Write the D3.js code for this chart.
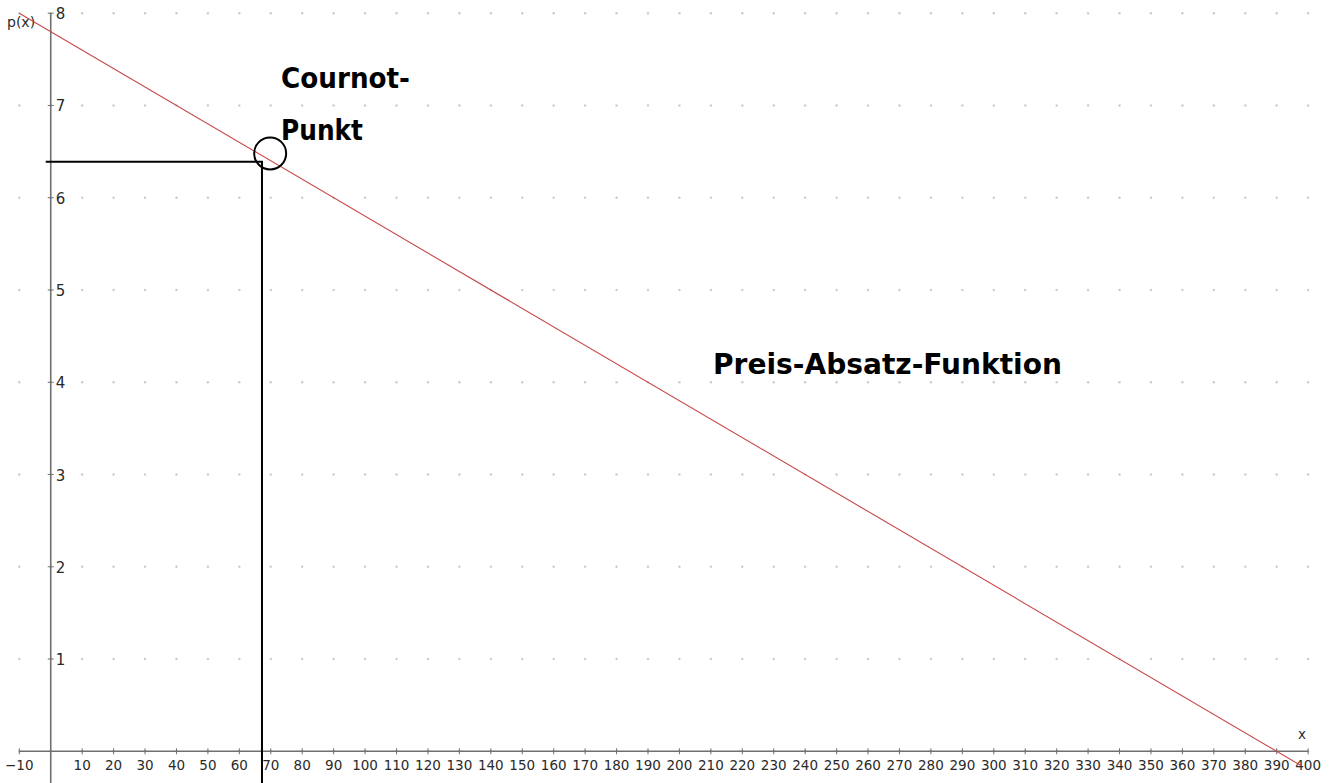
<!DOCTYPE html>
<html><head><meta charset="utf-8">
<script src="https://cdn.jsdelivr.net/npm/d3@7"></script>
<style>html,body{margin:0;padding:0;background:#fff;overflow:hidden}</style>
</head><body>
<svg id="c" width="1336" height="783"></svg>
<script>
// Data
const xTicks = [-10,10,20,30,40,50,60,70,80,90,100,110,120,130,140,150,160,170,180,190,200,210,220,230,240,250,260,270,280,290,300,310,320,330,340,350,360,370,380,390,400];
const yTicks = [1,2,3,4,5,6,7,8];
const demandX = [-10, 398];          // Preis-Absatz-Funktion p(x) = 7.8 - 0.02x
const demandP = [8.0, -0.16];
const cournotX = [67.2];
const cournotP = [6.39];
const circleX = [69.8];
const circleP = [6.48];
const gridX = d3.range(-10, 401, 10);
const gridY = [0,1,2,3,4,5,6,7,8];

const svg = d3.select("#c");
const x = d3.scaleLinear().domain([-10, 390]).range([19.3, 1276.7]);
const y = d3.scaleLinear().domain([0, 8]).range([751.3, 13.2]);

// dot grid
const dots = [];
gridY.forEach(gy => gridX.forEach(gx => dots.push([gx, gy])));
svg.append("g").selectAll("circle").data(dots).join("circle")
  .attr("cx", d => x(d[0])).attr("cy", d => y(d[1])).attr("r", 1.2)
  .attr("fill", "#cccccc");

// axes
const axisColor = "#707070";
svg.append("line").attr("x1", x(-10)).attr("x2", 1308).attr("y1", y(0)).attr("y2", y(0))
  .attr("stroke", axisColor).attr("stroke-width", 1.6);
svg.append("line").attr("x1", x(0)).attr("x2", x(0)).attr("y1", y(8)).attr("y2", 783)
  .attr("stroke", axisColor).attr("stroke-width", 1.6);

// x ticks
const xg = svg.append("g");
xg.selectAll("line").data(xTicks).join("line")
  .attr("x1", d => x(d)).attr("x2", d => x(d)).attr("y1", y(0) - 3).attr("y2", y(0) + 3)
  .attr("stroke", axisColor).attr("stroke-width", 1);
xg.selectAll("text").data(xTicks).join("text")
  .attr("x", d => x(d)).attr("y", 770)
  .attr("text-anchor", "middle")
  .attr("font-family", "DejaVu Sans, sans-serif").attr("font-size", 13.5)
  .attr("fill", "#2a2a2a")
  .text(d => d < 0 ? "\u2212" + Math.abs(d) : d);

// y ticks
const yg = svg.append("g");
yg.selectAll("line").data(yTicks).join("line")
  .attr("x1", x(0) - 3).attr("x2", x(0) + 3).attr("y1", d => y(d)).attr("y2", d => y(d))
  .attr("stroke", axisColor).attr("stroke-width", 1);
yg.selectAll("text").data(yTicks).join("text")
  .attr("x", x(0) + 5).attr("y", d => y(d) + 6)
  .attr("font-family", "DejaVu Sans, sans-serif").attr("font-size", 15)
  .attr("fill", "#2a2a2a")
  .text(d => d);

// axis labels
svg.append("text").attr("x", 1302).attr("y", 739).attr("text-anchor", "middle")
  .attr("font-family", "DejaVu Sans, sans-serif").attr("font-size", 13.5).attr("fill", "#2a2a2a").text("x");
svg.append("text").attr("x", 7).attr("y", 27)
  .attr("font-family", "DejaVu Sans, sans-serif").attr("font-size", 14).attr("fill", "#2a2a2a").text("p(x)");

// demand line
const line = d3.line().x(d => x(d[0])).y(d => y(d[1]));
svg.append("path").datum(demandX.map((v, i) => [v, demandP[i]]))
  .attr("d", line).attr("stroke", "#c84848").attr("stroke-width", 1.1).attr("fill", "none");

// Cournot guide lines
svg.append("path")
  .attr("d", `M45.7,${y(cournotP[0])}H${x(cournotX[0])}V783`)
  .attr("stroke", "#000").attr("stroke-width", 2).attr("fill", "none").attr("stroke-linejoin", "miter");
svg.append("circle").attr("cx", x(circleX[0])).attr("cy", y(circleP[0])).attr("r", 16)
  .attr("fill", "none").attr("stroke", "#000").attr("stroke-width", 2);

// annotations
const ann = (t, px, py, len) => svg.append("text").attr("x", px).attr("y", py)
  .attr("font-family", "DejaVu Sans, sans-serif").attr("font-weight", "bold").attr("font-size", 29)
  .attr("fill", "#000").attr("textLength", len).attr("lengthAdjust", "spacingAndGlyphs").text(t);
ann("Cournot-", 281, 88, 129);
ann("Punkt", 281, 140, 82);
ann("Preis-Absatz-Funktion", 713, 374, 349);
</script>
</body></html>
